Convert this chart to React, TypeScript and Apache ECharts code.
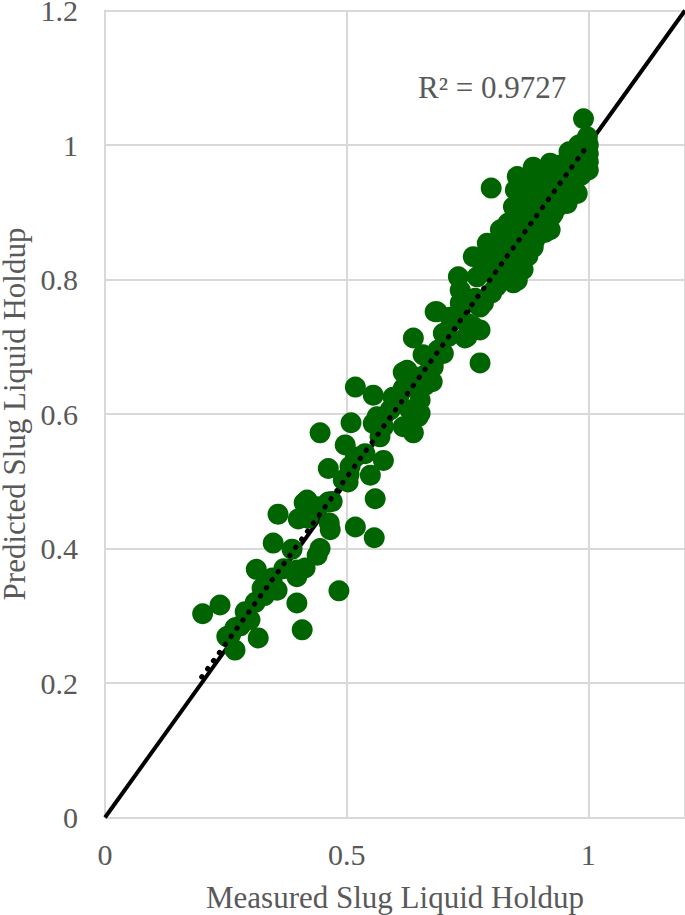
import React, { useEffect, useRef } from "react";
import * as echarts from "echarts";

const xTicks = [0, 0.5, 1];
const yTicks = [0, 0.2, 0.4, 0.6, 0.8, 1, 1.2];
const r2Label = "R² = 0.9727";
const xTitle = "Measured Slug Liquid Holdup";
const yTitle = "Predicted Slug Liquid Holdup";

const measuredVsPredicted: [number, number][] = [
  [0.202, 0.303], [0.238, 0.316], [0.252, 0.269], [0.269, 0.282], [0.269, 0.249],
  [0.29, 0.306], [0.3, 0.294], [0.311, 0.32], [0.317, 0.267], [0.313, 0.369],
  [0.325, 0.341], [0.346, 0.356], [0.348, 0.408], [0.356, 0.338], [0.358, 0.451],
  [0.387, 0.399], [0.397, 0.368], [0.397, 0.358], [0.397, 0.319], [0.408, 0.279],
  [0.4, 0.444], [0.414, 0.371], [0.412, 0.468], [0.439, 0.462], [0.439, 0.39],
  [0.445, 0.4], [0.445, 0.572], [0.462, 0.469], [0.462, 0.519], [0.464, 0.438],
  [0.466, 0.428], [0.484, 0.337], [0.497, 0.554], [0.503, 0.499], [0.505, 0.51],
  [0.509, 0.587], [0.518, 0.536], [0.518, 0.432], [0.518, 0.64], [0.549, 0.509],
  [0.555, 0.628], [0.557, 0.416], [0.559, 0.474], [0.563, 0.596], [0.569, 0.566],
  [0.576, 0.531], [0.596, 0.625], [0.617, 0.581], [0.631, 0.606], [0.638, 0.572],
  [0.652, 0.601], [0.617, 0.662], [0.642, 0.64], [0.663, 0.643], [0.667, 0.685],
  [0.638, 0.713], [0.679, 0.67], [0.7, 0.72], [0.687, 0.752], [0.776, 0.676],
  [0.762, 0.73], [0.729, 0.742], [0.749, 0.715], [0.783, 0.765],
  [0.507, 0.522], [0.493, 0.502], [0.538, 0.541], [0.576, 0.581], [0.555, 0.586],
  [0.59, 0.606], [0.607, 0.621], [0.617, 0.638], [0.631, 0.581], [0.648, 0.596],
  [0.652, 0.621], [0.667, 0.661], [0.679, 0.685], [0.7, 0.69], [0.71, 0.715],
  [0.749, 0.735], [0.735, 0.765], [0.418, 0.472], [0.28, 0.285], [0.26, 0.272],
  [0.33, 0.33], [0.37, 0.37], [0.42, 0.445], [0.47, 0.47],
  [0.731, 0.804], [0.735, 0.784], [0.766, 0.772], [0.776, 0.759], [0.683, 0.752],
  [0.714, 0.744], [0.776, 0.725], [0.745, 0.713], [0.658, 0.688], [0.689, 0.695],
  [0.679, 0.676], [0.625, 0.665], [0.677, 0.648], [0.652, 0.655],
  [0.799, 0.936], [0.859, 0.928], [0.863, 0.903], [0.834, 0.884], [0.818, 0.874],
  [0.791, 0.854], [0.762, 0.834], [0.783, 0.819], [0.818, 0.829], [0.859, 0.824],
  [0.886, 0.848], [0.921, 0.874], [0.928, 0.899], [0.921, 0.928], [0.894, 0.884],
  [0.853, 0.799], [0.812, 0.799], [0.77, 0.804],
  [0.99, 1.039], [0.998, 1.012], [1.0, 0.987], [1.0, 0.963], [0.977, 0.928],
  [0.956, 0.913], [0.921, 0.973], [0.886, 0.967], [0.853, 0.953], [0.849, 0.933],
  [0.845, 0.908], [0.894, 0.933], [0.942, 0.953], [0.969, 0.973],
  [0.8, 0.81], [0.81, 0.79], [0.82, 0.84], [0.83, 0.82], [0.84, 0.86],
  [0.84, 0.81], [0.85, 0.84], [0.86, 0.87], [0.86, 0.83], [0.87, 0.89],
  [0.87, 0.85], [0.88, 0.86], [0.88, 0.91], [0.89, 0.88], [0.89, 0.86],
  [0.9, 0.92], [0.9, 0.89], [0.91, 0.9], [0.91, 0.87], [0.92, 0.93],
  [0.92, 0.91], [0.93, 0.95], [0.93, 0.92], [0.94, 0.94], [0.94, 0.91],
  [0.95, 0.96], [0.95, 0.93], [0.96, 0.95], [0.96, 0.98], [0.97, 0.96],
  [0.97, 0.99], [0.98, 0.97], [0.98, 1.0], [0.99, 0.98], [0.99, 0.96],
  [1.0, 1.0], [1.0, 0.975], [0.79, 0.83], [0.8, 0.78], [0.82, 0.8],
  [0.83, 0.87], [0.85, 0.89], [0.86, 0.9], [0.88, 0.94], [0.9, 0.96],
  [0.91, 0.94], [0.92, 0.96], [0.94, 0.97], [0.96, 0.99], [0.97, 0.94],
  [0.875, 0.835], [0.895, 0.915], [0.905, 0.875], [0.925, 0.895], [0.945, 0.925],
  [0.955, 0.945], [0.965, 0.965], [0.985, 0.985], [0.995, 1.0], [0.985, 0.955],
  [0.865, 0.815], [0.845, 0.795], [0.835, 0.845], [0.815, 0.855], [0.805, 0.825],
];

const identityLine: [number, number][] = [[0, 0], [1.2, 1.2]];
const trendLine: [number, number][] = [[0.2, 0.209], [0.995, 0.996]];

const FONT = "'Liberation Serif', 'Times New Roman', serif";
const GRAY = "#595959";
const GRID = "#d9d9d9";

export default function App() {
  const ref = useRef<HTMLDivElement>(null);
  useEffect(() => {
    if (!ref.current) return;
    const chart = echarts.init(ref.current, undefined, { renderer: "svg" });
    chart.setOption({
      animation: false,
      backgroundColor: "#ffffff",
      grid: {
        left: 105, right: 0, top: 10.5, bottom: 97.5,
        containLabel: false, outerBoundsMode: "none",
      },
      xAxis: {
        type: "value",
        min: 0,
        max: 1.2,
        interval: 0.5,
        name: xTitle,
        nameLocation: "middle",
        nameGap: 64,
        nameTextStyle: { fontFamily: FONT, fontSize: 31, color: GRAY },
        axisLine: { show: false },
        axisTick: { show: false },
        axisLabel: {
          fontFamily: FONT, fontSize: 30, color: GRAY, margin: 22,
          showMaxLabel: false,
          formatter: (v: number) => (xTicks.some((k) => Math.abs(k - v) < 1e-6) ? String(v) : ""),
        },
        splitLine: { show: true, lineStyle: { color: GRID, width: 2 } },
      },
      yAxis: {
        type: "value",
        min: 0,
        max: 1.2,
        interval: 0.2,
        name: yTitle,
        nameLocation: "middle",
        nameGap: 78,
        nameTextStyle: { fontFamily: FONT, fontSize: 31, color: GRAY, lineHeight: 26 },
        axisLine: { show: true, lineStyle: { color: GRID, width: 2 } },
        axisTick: { show: false },
        axisLabel: {
          fontFamily: FONT, fontSize: 30, color: GRAY, margin: 27, lineHeight: 21,
          formatter: (v: number) => {
            const t = yTicks.find((k) => Math.abs(k - v) < 1e-6);
            return t === undefined ? "" : String(t);
          },
        },
        splitLine: { show: true, lineStyle: { color: GRID, width: 2 } },
      },
      graphic: [
        {
          type: "text",
          left: 418,
          top: 72,
          style: { text: r2Label, font: `31px ${FONT}`, fill: GRAY },
        },
      ],
      series: [
        {
          type: "line",
          data: identityLine,
          symbol: "none",
          lineStyle: { color: "#000000", width: 4 },
          z: 1,
        },
        {
          type: "scatter",
          data: measuredVsPredicted,
          symbolSize: 21,
          itemStyle: { color: "#006400", opacity: 1 },
          z: 2,
        },
        {
          type: "line",
          data: trendLine,
          symbol: "none",
          lineStyle: { color: "#000000", width: 5, type: [0.5, 9.5], cap: "round" },
          z: 3,
        },
      ],
    });
    return () => chart.dispose();
  }, []);
  return (
    <div
      ref={ref}
      style={{ position: "fixed", left: 0, top: 0, width: 685, height: 915, background: "#fff" }}
    />
  );
}
